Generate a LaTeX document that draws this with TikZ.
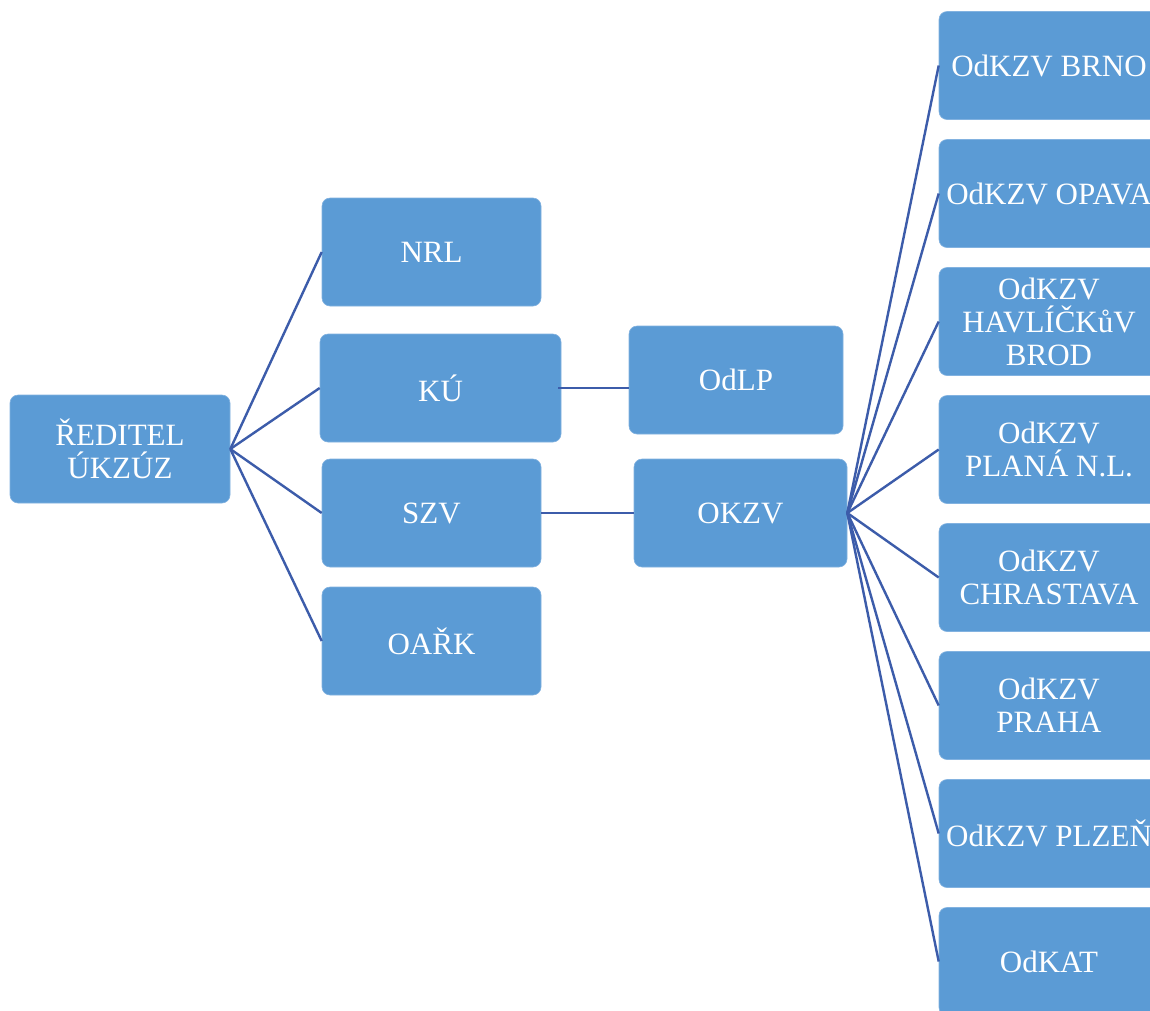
\documentclass[tikz,border=0pt]{standalone}
\usepackage{fontspec}
\setmainfont{Liberation Serif}
\definecolor{boxblue}{RGB}{91,155,213}
\definecolor{boxedge}{RGB}{130,178,224}
\definecolor{linkblue}{RGB}{60,92,170}
\tikzset{
  orgbox/.style={rectangle, rounded corners=8pt, fill=boxblue, draw=boxedge, line width=0.6pt,
    text=white, align=center, inner sep=0pt, minimum height=108pt,
    font=\fontsize{31}{33}\selectfont},
  link/.style={draw=linkblue, line width=2.4pt}
}
\begin{document}
\begin{tikzpicture}[x=1pt,y=-1pt]
\useasboundingbox (0,0) rectangle (1150,1010);
\clip (0,0) rectangle (1150,1010);
\fill[white] (0,0) rectangle (1150,1010);
% left and middle columns
\node[orgbox, minimum width=220pt] (red) at (120,449) {ŘEDITEL\\ÚKZÚZ};
\node[orgbox, minimum width=219pt] (nrl) at (431.5,252) {NRL};
\node[orgbox, minimum width=241pt] (ku) at (440.5,388) {KÚ};
\node[orgbox, minimum width=219pt] (szv) at (431.5,513) {SZV};
\node[orgbox, minimum width=219pt] (oark) at (431.5,641) {OAŘK};
\node[orgbox, minimum width=214pt] (odlp) at (736,380) {OdLP};
\node[orgbox, minimum width=213pt] (okzv) at (740.5,513) {OKZV};
% right column
\node[orgbox, minimum width=220pt] (r1) at (1049,65.5) {OdKZV BRNO};
\node[orgbox, minimum width=220pt] (r2) at (1049,193.5) {OdKZV OPAVA};
\node[orgbox, minimum width=220pt] (r3) at (1049,321.5) {OdKZV\\HAVLÍČKůV\\BROD};
\node[orgbox, minimum width=220pt] (r4) at (1049,449.5) {OdKZV\\PLANÁ N.L.};
\node[orgbox, minimum width=220pt] (r5) at (1049,577.5) {OdKZV\\CHRASTAVA};
\node[orgbox, minimum width=220pt] (r6) at (1049,705.5) {OdKZV\\PRAHA};
\node[orgbox, minimum width=220pt] (r7) at (1049,833.5) {OdKZV PLZEŇ};
\node[orgbox, minimum width=220pt] (r8) at (1049,961.5) {OdKAT};
% connectors
\foreach \t in {nrl,ku,szv,oark} \draw[link] (red.east) -- (\t.west);
\draw[link] ([xshift=-3pt]ku.east) -- (ku.east -| odlp.west);
\draw[link] (szv.east) -- (okzv.west);
\foreach \t in {r1,r2,r3,r4,r5,r6,r7,r8} \draw[link] (okzv.east) -- (\t.west);
\end{tikzpicture}
\end{document}
